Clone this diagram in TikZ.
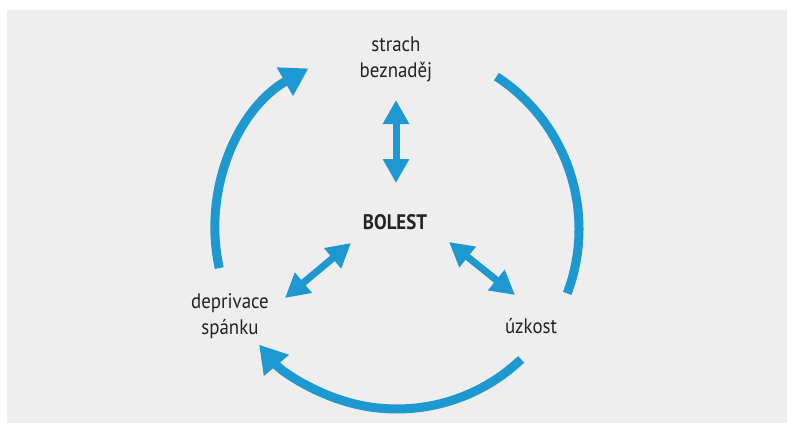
\documentclass[tikz,border=0pt]{standalone}
\usepackage{fontspec}
\setmainfont{PT Sans}[FakeStretch=0.9]
\usetikzlibrary{arrows.meta}
\definecolor{cycblue}{RGB}{30,152,208}
\definecolor{bggray}{RGB}{238,238,238}
\definecolor{txt}{RGB}{35,35,35}
\tikzset{
  lbl/.style={text=txt, font=\fontsize{21}{26}\selectfont, align=center, inner sep=0pt},
  bold lbl/.style={lbl, font=\fontsize{21}{26}\selectfont\bfseries},
  cyc/.style={draw=cycblue, line width=9pt},
  cychead/.style={-{Triangle[width=31pt,length=27pt]}},
  dbl/.style={draw=cycblue, line width=7pt, {Triangle[width=25pt,length=24pt]}-{Triangle[width=25pt,length=24pt]}}
}
\begin{document}
\begin{tikzpicture}[x=1pt,y=1pt]
\useasboundingbox (0,0) rectangle (787,-423);
\fill[white] (0,0) rectangle (787,-423);
\fill[bggray] (7,-10) rectangle (787,-423);
% labels
\node[lbl] (strach) at (396,-59) {strach\\beznaděj};
\node[bold lbl] (bolest) at (395,-222) {BOLEST};
\node[lbl] (depr) at (230,-316) {deprivace\\spánku};
\node[lbl] (uzk) at (531,-326) {úzkost};
% cycle centre
\coordinate (c) at (397,-229);
% arcs
\draw[cyc] (c) ++(56.9:182) coordinate (r1) arc[start angle=56.9, end angle=-20.7, radius=182];
\draw[cyc, cychead] (c) ++(-46.4:180) coordinate (b1) arc[start angle=-46.4, end angle=-140, radius=180];
\draw[cyc, cychead] (c) ++(192.4:182) coordinate (l1) arc[start angle=192.4, end angle=119.5, radius=184];
% double arrows
\coordinate (vT) at (396,-100);
\coordinate (vB) at (396,-183);
\coordinate (lA) at (285,-298);
\coordinate (lB) at (351,-243);
\coordinate (rA) at (449,-242);
\coordinate (rB) at (515,-295);
\draw[dbl] (vT) -- (vB);
\draw[dbl] (lA) -- (lB);
\draw[dbl] (rA) -- (rB);
\end{tikzpicture}
\end{document}
